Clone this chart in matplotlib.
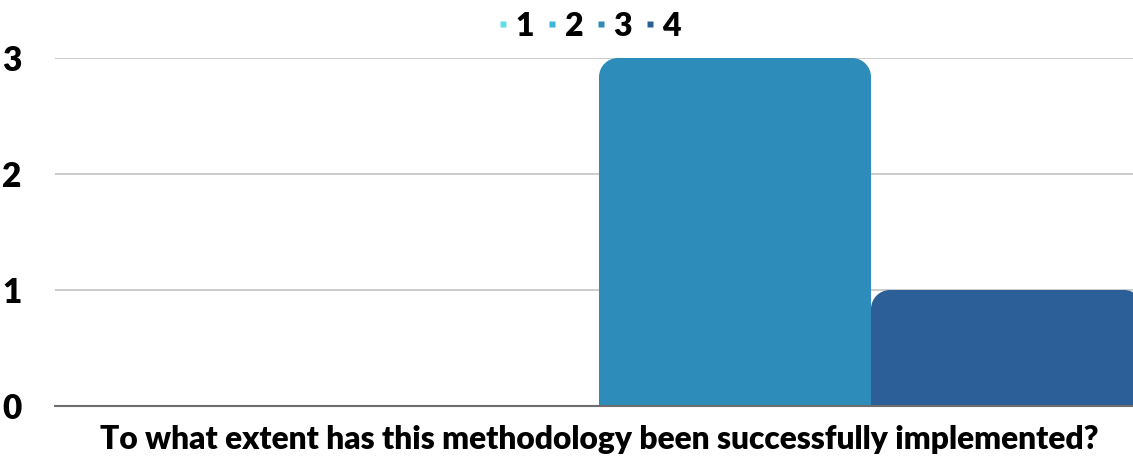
import matplotlib
matplotlib.use('Agg')
import matplotlib.pyplot as plt
from matplotlib.path import Path
from matplotlib.patches import PathPatch
from matplotlib.lines import Line2D

series = ['1', '2', '3', '4']
values = [0, 0, 3, 1]
colors = ['#62dde6', '#3fb5dc', '#2e8cba', '#2c5f97']
category = 'To what extent has this methodology been successfully implemented?'
yticks = [0, 1, 2, 3]

plt.rcParams['font.family'] = ['Lato', 'DejaVu Sans']
plt.rcParams['font.weight'] = 'heavy'

W, H = 1133, 459
fig = plt.figure(figsize=(W / 100, H / 100), dpi=100)
ax = fig.add_axes([55 / W, 53 / H, 1088 / W, 348 / H])

bar_w = 1.0
xs = [i * bar_w for i in range(len(values))]
ax.set_xlim(0, len(values) * bar_w)
ax.set_ylim(0, 3)

# corner radius in pixels -> data units
px_x = (len(values) * bar_w) / 1088
px_y = 3 / 348
r = 19


def rounded_bar(x0, w, h, color):
    if h <= 0:
        return
    rx, ry = r * px_x, min(r * px_y, h)
    k = 0.5523
    verts = [(x0, 0), (x0, h - ry),
             (x0, h - ry + k * ry), (x0 + rx - k * rx, h), (x0 + rx, h),
             (x0 + w - rx, h),
             (x0 + w - rx + k * rx, h), (x0 + w, h - ry + k * ry), (x0 + w, h - ry),
             (x0 + w, 0), (x0, 0)]
    codes = [Path.MOVETO, Path.LINETO,
             Path.CURVE4, Path.CURVE4, Path.CURVE4,
             Path.LINETO,
             Path.CURVE4, Path.CURVE4, Path.CURVE4,
             Path.LINETO, Path.CLOSEPOLY]
    ax.add_patch(PathPatch(Path(verts, codes), facecolor=color, edgecolor='none', zorder=3))


for x, v, c in zip(xs, values, colors):
    rounded_bar(x, bar_w, v, c)

ax.set_yticks(yticks)
ax.set_yticklabels([str(t) for t in yticks], fontsize=24, fontweight='heavy')
ax.tick_params(axis='y', length=0, pad=24)
ax.set_xticks([])
ax.yaxis.grid(True, color='#c4c4c4', linewidth=1.2, zorder=0)
ax.set_axisbelow(True)
for s in ['top', 'right', 'left']:
    ax.spines[s].set_visible(False)
ax.spines['bottom'].set_color('#6e6e6e')
ax.spines['bottom'].set_linewidth(1.5)
ax.spines['bottom'].set_zorder(4)

fig.text(599 / W, 1 - 440 / H, category, ha='center', va='center',
         fontsize=22.85, fontweight='heavy')

handles = [Line2D([], [], marker='s', linestyle='none', markersize=5,
                  markerfacecolor=c, markeredgecolor='none') for c in colors]
fig.legend(handles, series, loc='center', bbox_to_anchor=(588 / W, 1 - 26 / H),
           ncol=4, frameon=False, handletextpad=0.15,
           columnspacing=0.3, handlelength=0.5,
           prop={'weight': 'heavy', 'size': 23})

fig.savefig('out.png', dpi=100)
